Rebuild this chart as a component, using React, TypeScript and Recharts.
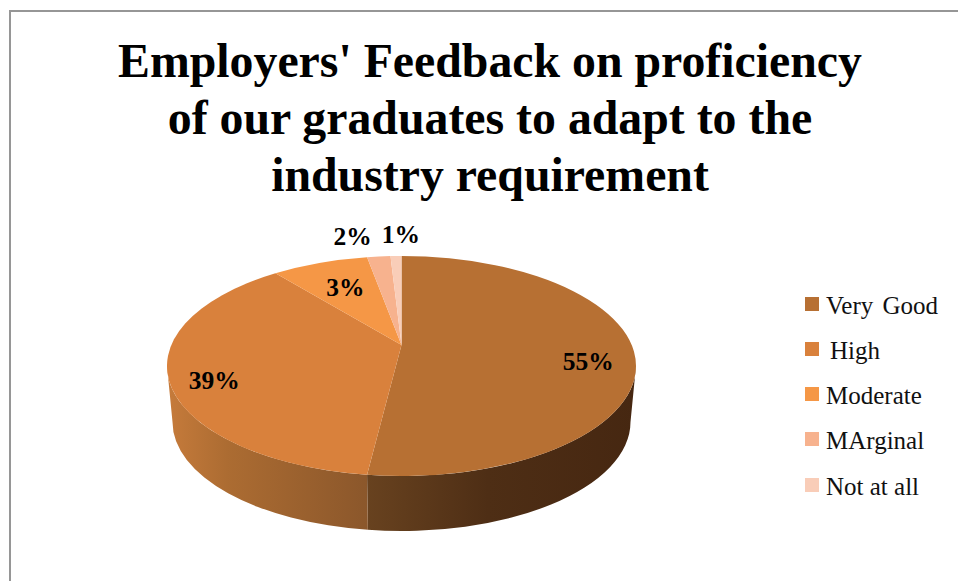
import { Legend, Pie, PieChart } from "recharts";

const categories = ["Very Good", "High", "Moderate", "MArginal", "Not at all"];
// Percentages printed on the slices
const printedPercents = [55, 39, 3, 2, 1];
// Share of the rim each slice takes in the picture; the reference's 3D view
// does not draw them in proportion to the printed numbers
const drawnShares = [52.45, 38.7, 6.7, 1.6, 0.75];
const sliceColors = ["#B77033", "#D9813C", "#F59746", "#F7B28E", "#F9CDB8"];
const wallGradients = ["wall-very-good", "wall-high", "none", "none", "none"];

const rows = categories.map((name, i) => ({
  name,
  share: drawnShares[i],
  fill: sliceColors[i],
}));

// Offset of each label from the rim midpoint of its slice
const labelOffsets = [
  [-47, -13],
  [42, -8],
  [26, 25],
  [-26, -20],
  [5, -22],
];

const FONT = '"Liberation Serif", "Times New Roman", serif';
const RX = 234.5;
const RY = 110;
// The top ellipse is centred below the apex of the slices (perspective)
const TOP_SHIFT = 21;
const BOTTOM_RX = 229;
const BOTTOM_RY = 109;
const BOTTOM_SHIFT = 77;

const rad = (deg: number) => (deg * Math.PI) / 180;

function Slice(props: any) {
  const { cx, cy, startAngle, endAngle, fill, name } = props;
  const topY = cy + TOP_SHIFT;
  const botY = cy + BOTTOM_SHIFT;
  const top = (a: number) =>
    `${cx + RX * Math.cos(rad(a))} ${topY - RY * Math.sin(rad(a))}`;
  const bot = (a: number) =>
    `${cx + BOTTOM_RX * Math.cos(rad(a))} ${botY - BOTTOM_RY * Math.sin(rad(a))}`;

  const large = Math.abs(startAngle - endAngle) > 180 ? 1 : 0;
  const face = `M ${cx} ${cy} L ${top(startAngle)} A ${RX} ${RY} 0 ${large} 1 ${top(endAngle)} Z`;

  // Only the front half of the rim has a visible wall
  const a0 = Math.min(startAngle, 0);
  const a1 = Math.max(endAngle, -180);
  const grad = wallGradients[categories.indexOf(name)];
  const wall =
    a0 > a1 && grad !== "none"
      ? `M ${top(a0)} A ${RX} ${RY} 0 0 1 ${top(a1)} L ${bot(a1)} A ${BOTTOM_RX} ${BOTTOM_RY} 0 0 0 ${bot(a0)} Z`
      : null;

  return (
    <g>
      {wall && <path d={wall} fill={`url(#${grad})`} />}
      <path d={face} fill={fill} />
    </g>
  );
}

function SliceLabel(props: any) {
  const { cx, cy, midAngle, index } = props;
  const [dx, dy] = labelOffsets[index];
  const x = cx + RX * Math.cos(rad(midAngle)) + dx;
  const y = cy + TOP_SHIFT - RY * Math.sin(rad(midAngle)) + dy;
  return (
    <text
      x={x}
      y={y}
      textAnchor="middle"
      dominantBaseline="central"
      fontFamily={FONT}
      fontWeight="bold"
      fontSize={25.5}
      fill="#000"
    >
      {printedPercents[index]}%
    </text>
  );
}

function LegendList() {
  return (
    <div style={{ fontFamily: FONT, fontSize: 25, color: "#111" }}>
      {categories.map((name, i) => (
        <div
          key={name}
          style={{ display: "flex", alignItems: "center", height: 45.25 }}
        >
          <span
            style={{
              width: 14,
              height: 14,
              marginRight: name === "High" ? 11 : 7,
              marginTop: -4,
              background: sliceColors[i],
              display: "inline-block",
            }}
          />
          <span style={{ wordSpacing: name === "Very Good" ? 3 : 0 }}>{name}</span>
        </div>
      ))}
    </div>
  );
}

const titleLines = [
  "Employers' Feedback on proficiency",
  "of our graduates to adapt to the",
  "industry requirement",
];

export default function App() {
  return (
    <div
      style={{
        position: "absolute",
        left: 0,
        top: 0,
        width: 958,
        height: 581,
        overflow: "hidden",
        background: "#fff",
      }}
    >
      <div
        style={{
          position: "absolute",
          left: 9,
          top: 10,
          width: 960,
          height: 600,
          borderLeft: "2px solid #969696",
          borderTop: "2px solid #969696",
        }}
      />
      <div
        style={{
          position: "absolute",
          left: 0,
          top: 32,
          width: 980,
          textAlign: "center",
          fontFamily: FONT,
          fontWeight: "bold",
          fontSize: 47.8,
          lineHeight: "57px",
          color: "#000",
          whiteSpace: "nowrap",
        }}
      >
        {titleLines.map((line) => (
          <div key={line}>{line}</div>
        ))}
      </div>
      <div style={{ position: "absolute", left: 0, top: 0 }}>
        <PieChart width={958} height={581} margin={{ top: 0, right: 0, bottom: 0, left: 0 }}>
          <defs>
            <linearGradient id="wall-very-good" x1="0" y1="0" x2="1" y2="0">
              <stop offset="0%" stopColor="#68421F" />
              <stop offset="45%" stopColor="#4E2E15" />
              <stop offset="100%" stopColor="#462711" />
            </linearGradient>
            <linearGradient id="wall-high" x1="0" y1="0" x2="1" y2="0">
              <stop offset="0%" stopColor="#C67B3B" />
              <stop offset="30%" stopColor="#AC6C32" />
              <stop offset="100%" stopColor="#8B572B" />
            </linearGradient>
          </defs>
          <Pie
            data={rows}
            dataKey="share"
            nameKey="name"
            cx={401.5}
            cy={345}
            outerRadius={RX}
            startAngle={90}
            endAngle={-270}
            stroke="none"
            shape={Slice}
            label={SliceLabel}
            labelLine={false}
            isAnimationActive={false}
          />
          <Legend
            content={<LegendList />}
            layout="vertical"
            wrapperStyle={{ position: "absolute", left: 805, top: 283, width: 153, bottom: "auto" }}
          />
        </PieChart>
      </div>
    </div>
  );
}
